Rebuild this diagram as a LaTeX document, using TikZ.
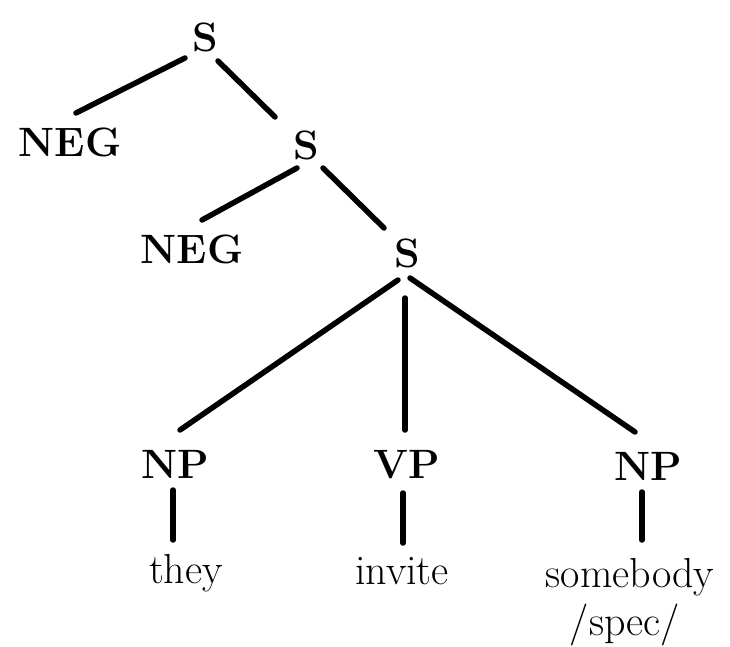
\documentclass[tikz,border=0pt]{standalone}
\begin{document}
\begin{tikzpicture}[x=1pt,y=-1pt,
  cat/.style={anchor=base,inner sep=0pt,font=\bfseries\fontsize{41}{44}\selectfont},
  word/.style={anchor=base,inner sep=0pt,font=\fontsize{42}{46}\selectfont},
  branch/.style={line width=5.5pt,line cap=round}]
\useasboundingbox (0,0) rectangle (730,647);
\node[cat] (s1) at (205,52) {S};
\node[cat] (neg1) at (70,157) {NEG};
\node[cat] (s2) at (306,160) {S};
\node[cat] (neg2) at (192,263) {NEG};
\node[cat] (s3) at (407,267) {S};
\node[cat] (np1) at (175,478) {NP};
\node[cat] (vp) at (407,478) {VP};
\node[cat] (np3) at (648,480) {NP};
\node[word] (they) at (186,583) {they};
\node[word] (invite) at (402,584) {invite};
\node[word] (somebody) at (630,587) {somebody};
\node[word] (spec) at (625,635) {/spec/};
\draw[branch] ([shift={(-20,6)}]s1.base) -- ([shift={(6,-44)}]neg1.base);
\draw[branch] ([shift={(13,9)}]s1.base) -- ([shift={(-31,-43)}]s2.base);
\draw[branch] ([shift={(-9,8)}]s2.base) -- ([shift={(10,-43)}]neg2.base);
\draw[branch] ([shift={(17,8)}]s2.base) -- ([shift={(-23,-39)}]s3.base);
\draw[branch] ([shift={(-9,13)}]s3.base) -- ([shift={(5,-48)}]np1.base);
\draw[branch] ([shift={(-2,31)}]s3.base) -- ([shift={(-2,-48)}]vp.base);
\draw[branch] ([shift={(3,11)}]s3.base) -- ([shift={(-13,-48)}]np3.base);
\draw[branch] ([shift={(-2,12)}]np1.base) -- ([shift={(-13,-43)}]they.base);
\draw[branch] ([shift={(-4,15)}]vp.base) -- ([shift={(1,-41)}]invite.base);
\draw[branch] ([shift={(-6,12)}]np3.base) -- ([shift={(12,-47)}]somebody.base);
\end{tikzpicture}
\end{document}
